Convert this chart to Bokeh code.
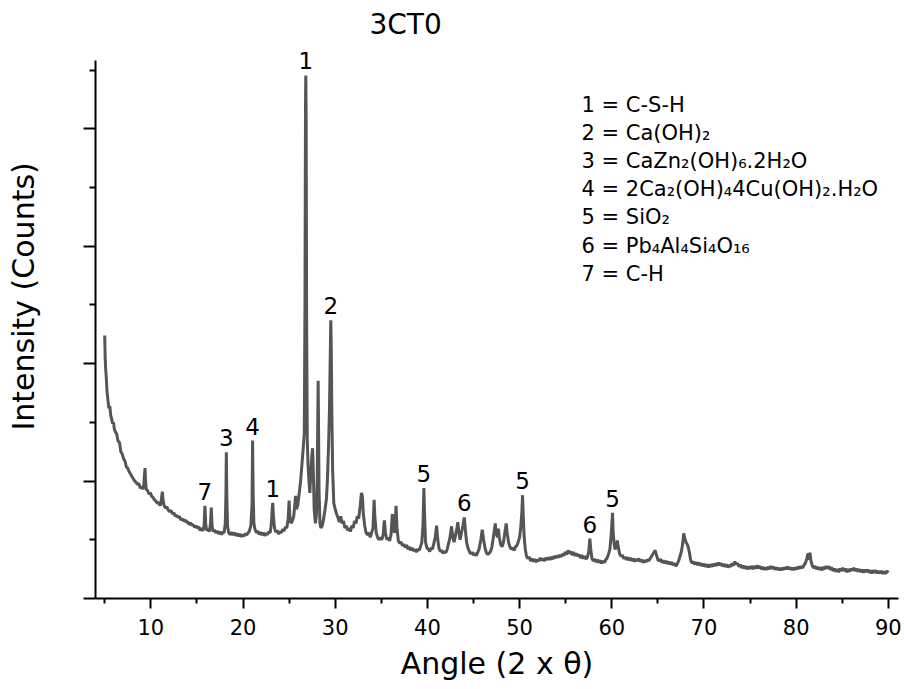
import math
from bokeh.plotting import figure
from bokeh.models import Range1d, FixedTicker, Label, CustomJSTickFormatter, Title
from bokeh.embed import file_html
from bokeh.resources import INLINE
from bokeh.core.properties import value

FONT = "DejaVu Sans"

# ---- diffraction scan (angle 2-theta, intensity counts) ----
scan_low = [
    (5.00, 2240), (5.05, 2050), (5.10, 1960), (5.18, 1870), (5.25, 1760), (5.35, 1690),
    (5.45, 1620), (5.55, 1640), (5.65, 1560), (5.75, 1530), (5.85, 1490), (5.95, 1500),
    (6.05, 1440), (6.15, 1420), (6.30, 1400), (6.45, 1340), (6.60, 1330), (6.75, 1250),
    (6.90, 1230), (7.05, 1190), (7.20, 1170), (7.35, 1120), (7.50, 1110), (7.65, 1080),
    (7.80, 1060), (7.95, 1040), (8.10, 1020), (8.25, 1000), (8.40, 990), (8.55, 970),
    (8.70, 980), (8.85, 940), (9.00, 950), (9.15, 930), (9.25, 980), (9.32, 1060),
    (9.37, 1110), (9.42, 1020), (9.50, 930), (9.65, 920), (9.80, 890), (9.95, 900),
    (10.10, 870), (10.25, 860), (10.40, 840), (10.55, 830), (10.70, 810), (10.85, 820),
    (11.00, 790), (11.10, 810), (11.20, 880), (11.25, 910), (11.32, 840), (11.45, 790),
    (11.60, 770), (11.75, 780), (11.90, 750), (12.05, 740), (12.20, 750), (12.35, 720),
    (12.50, 730), (12.65, 700), (12.80, 710), (12.95, 690), (13.10, 700), (13.25, 670),
    (13.40, 680), (13.55, 660), (13.70, 670), (13.85, 650), (14.00, 655), (14.15, 630),
    (14.30, 645), (14.45, 625), (14.60, 630), (14.75, 605), (14.90, 620), (15.05, 600),
    (15.20, 610), (15.35, 580), (15.50, 600), (15.65, 575), (15.78, 620), (15.87, 790),
    (15.95, 640), (16.05, 580), (16.20, 590), (16.35, 570), (16.48, 640), (16.56, 775),
    (16.64, 620), (16.75, 570), (16.90, 585), (17.05, 560), (17.20, 575), (17.35, 550),
    (17.50, 570), (17.65, 545), (17.80, 565), (17.95, 560), (18.08, 640), (18.15, 900),
    (18.19, 1245), (18.24, 900), (18.32, 620), (18.45, 560), (18.60, 545), (18.75, 565),
    (18.90, 540), (19.05, 560), (19.20, 535), (19.35, 555), (19.50, 530), (19.65, 550),
    (19.80, 525), (19.95, 545),
]

scan_main = [
    (20.10, 530), (20.25, 555), (20.40, 540), (20.55, 560), (20.70, 575), (20.85, 620),
    (20.98, 800), (21.04, 1345), (21.10, 900), (21.18, 640), (21.30, 590), (21.45, 560),
    (21.60, 575), (21.75, 545), (21.90, 565), (22.05, 540), (22.20, 560), (22.35, 535),
    (22.50, 555), (22.65, 545), (22.80, 570), (22.95, 560), (23.08, 640), (23.18, 780),
    (23.23, 815), (23.30, 700), (23.42, 600), (23.55, 565), (23.70, 580), (23.85, 550),
    (24.00, 570), (24.15, 560), (24.30, 590), (24.45, 575), (24.60, 610), (24.75, 600),
    (24.90, 680), (25.00, 835), (25.08, 700), (25.20, 640), (25.35, 660), (25.50, 700),
    (25.62, 800), (25.70, 875), (25.80, 760), (25.95, 800), (26.10, 900), (26.25, 1000),
    (26.40, 1150), (26.55, 1300), (26.65, 1415), (26.72, 2500), (26.78, 4200), (26.81, 4455),
    (26.85, 4100), (26.90, 2400), (26.97, 1350), (27.05, 1150), (27.15, 1000), (27.25, 900),
    (27.35, 1050), (27.45, 1200), (27.55, 1280), (27.62, 1100), (27.72, 760), (27.85, 640),
    (27.95, 700), (28.05, 1000), (28.12, 1600), (28.15, 1855), (28.19, 1500), (28.25, 900),
    (28.35, 640), (28.45, 600), (28.60, 620), (28.75, 680), (28.90, 760), (29.05, 850),
    (29.15, 1000), (29.28, 1300), (29.38, 1620), (29.47, 2100), (29.52, 2370), (29.57, 2150),
    (29.63, 1620), (29.72, 1100), (29.85, 810), (30.00, 760), (30.15, 720), (30.30, 690),
    (30.45, 650), (30.60, 700), (30.75, 640), (30.90, 660), (31.05, 600), (31.20, 620),
    (31.35, 580), (31.50, 600), (31.65, 570), (31.80, 620), (31.95, 600), (32.10, 660),
    (32.25, 640), (32.40, 700), (32.55, 680), (32.70, 780), (32.85, 900), (32.95, 870),
    (33.05, 720),
]

scan_mid = [
    (33.20, 620), (33.35, 560), (33.50, 540), (33.65, 560), (33.80, 520), (33.95, 560),
    (34.10, 600), (34.22, 840), (34.30, 700), (34.45, 560), (34.60, 520), (34.75, 500),
    (34.90, 520), (35.05, 500), (35.20, 540), (35.33, 665), (35.45, 560), (35.60, 500),
    (35.75, 520), (35.90, 490), (36.05, 540), (36.20, 720), (36.28, 600), (36.45, 560),
    (36.60, 790), (36.70, 600), (36.85, 490), (37.00, 470), (37.15, 480), (37.30, 450),
    (37.45, 460), (37.60, 435), (37.75, 455), (37.90, 420), (38.05, 440), (38.20, 410),
    (38.35, 430), (38.50, 405), (38.65, 420), (38.80, 395), (38.95, 420), (39.10, 410),
    (39.25, 440), (39.40, 480), (39.52, 620), (39.62, 940), (39.70, 700), (39.80, 480),
    (39.95, 430), (40.10, 420), (40.25, 400), (40.40, 430), (40.55, 420), (40.70, 470),
    (40.85, 520), (41.00, 620), (41.10, 520), (41.25, 430), (41.40, 400), (41.55, 410),
    (41.70, 385), (41.85, 400), (42.00, 390), (42.15, 420), (42.30, 470), (42.45, 520),
    (42.62, 615), (42.75, 520), (42.90, 480), (43.05, 540), (43.20, 600), (43.30, 650),
    (43.42, 560), (43.55, 500), (43.70, 560), (43.85, 620), (44.00, 690), (44.10, 600),
    (44.25, 480), (44.40, 430), (44.55, 400), (44.70, 380), (44.85, 395), (45.00, 370),
    (45.15, 385), (45.30, 365), (45.45, 390), (45.60, 420), (45.80, 500), (45.95, 585),
    (46.10, 500), (46.25, 430), (46.40, 390), (46.55, 375), (46.70, 385), (46.85, 400),
    (47.00, 440), (47.15, 520), (47.30, 600), (47.36, 640), (47.45, 560), (47.60, 520),
    (47.70, 595), (47.80, 520), (47.95, 460), (48.10, 440), (48.25, 480), (48.40, 560),
    (48.55, 640), (48.65, 560), (48.80, 480), (48.95, 440), (49.10, 420), (49.25, 430),
    (49.40, 410), (49.55, 440), (49.70, 450), (49.85, 480), (50.00, 520), (50.12, 600),
    (50.25, 740), (50.32, 880), (50.40, 700), (50.50, 520), (50.62, 420),
]

scan_high = [
    (50.75, 360), (50.90, 340), (51.05, 355), (51.20, 320), (51.35, 340), (51.50, 315),
    (51.65, 335), (51.80, 310), (51.95, 330), (52.10, 320), (52.25, 345), (52.40, 325),
    (52.55, 340), (52.70, 320), (52.85, 345), (53.00, 330), (53.15, 350), (53.30, 330),
    (53.45, 355), (53.60, 335), (53.75, 360), (53.90, 345), (54.05, 365), (54.20, 350),
    (54.35, 370), (54.50, 355), (54.65, 380), (54.80, 365), (54.95, 395), (55.10, 375),
    (55.25, 410), (55.40, 385), (55.55, 400), (55.70, 370), (55.85, 395), (56.00, 365),
    (56.15, 385), (56.30, 360), (56.45, 375), (56.60, 345), (56.75, 370), (56.90, 340),
    (57.05, 360), (57.20, 335), (57.35, 350), (57.50, 400), (57.62, 510), (57.72, 420),
    (57.85, 340), (58.00, 320), (58.15, 335), (58.30, 310), (58.45, 330), (58.60, 305),
    (58.75, 325), (58.90, 300), (59.05, 320), (59.20, 305), (59.35, 330), (59.50, 345),
    (59.65, 380), (59.80, 420), (59.95, 560), (60.08, 730), (60.15, 560), (60.25, 470),
    (60.35, 420), (60.50, 440), (60.60, 495), (60.70, 440), (60.85, 380), (61.00, 360),
    (61.15, 370), (61.30, 340), (61.45, 355), (61.60, 330), (61.75, 350), (61.90, 325),
    (62.05, 345), (62.20, 320), (62.35, 340), (62.50, 315), (62.65, 335), (62.80, 320),
    (62.95, 340), (63.10, 315), (63.25, 330), (63.40, 305), (63.55, 325), (63.70, 310),
    (63.85, 330), (64.00, 320), (64.20, 345), (64.40, 370), (64.55, 390), (64.70, 410),
    (64.85, 370), (65.00, 330), (65.15, 320), (65.30, 335), (65.45, 305), (65.60, 325),
    (65.75, 300), (65.90, 320), (66.05, 295), (66.20, 315), (66.35, 290), (66.50, 310),
    (66.65, 285), (66.80, 300), (66.95, 275), (67.10, 295), (67.25, 320), (67.40, 360),
    (67.55, 400), (67.70, 470), (67.80, 555), (67.90, 520), (68.05, 480), (68.25, 450),
    (68.40, 400), (68.55, 330), (68.70, 300),
]

scan_tail = [
    (68.85, 315), (69.00, 290), (69.15, 310), (69.30, 285), (69.45, 305), (69.60, 280),
    (69.75, 300), (69.90, 275), (70.05, 295), (70.20, 270), (70.35, 290), (70.50, 265),
    (70.65, 290), (70.80, 270), (70.95, 295), (71.10, 275), (71.25, 300), (71.40, 280),
    (71.55, 305), (71.70, 285), (71.85, 300), (72.00, 275), (72.15, 295), (72.30, 270),
    (72.45, 290), (72.60, 265), (72.75, 285), (72.90, 270), (73.05, 300), (73.20, 280),
    (73.35, 315), (73.50, 290), (73.65, 300), (73.80, 270), (73.95, 290), (74.10, 260),
    (74.25, 280), (74.40, 255), (74.55, 275), (74.70, 250), (74.85, 270), (75.00, 255),
    (75.15, 275), (75.30, 250), (75.45, 275), (75.60, 255), (75.75, 280), (75.90, 260),
    (76.05, 275), (76.20, 250), (76.35, 270), (76.50, 245), (76.65, 265), (76.80, 245),
    (76.95, 270), (77.10, 250), (77.25, 275), (77.40, 255), (77.55, 270), (77.70, 245),
    (77.85, 265), (78.00, 245), (78.15, 260), (78.30, 240), (78.45, 260), (78.60, 245),
    (78.75, 265), (78.90, 250), (79.05, 270), (79.20, 250), (79.35, 265), (79.50, 245),
    (79.65, 260), (79.80, 245), (79.95, 265), (80.10, 250), (80.25, 270), (80.40, 255),
    (80.55, 275), (80.70, 260), (80.85, 285), (81.00, 300), (81.15, 340), (81.30, 385),
    (81.40, 330), (81.50, 390), (81.60, 320), (81.75, 280), (81.90, 260), (82.05, 275),
    (82.20, 250), (82.35, 270), (82.50, 245), (82.65, 265), (82.80, 240), (82.95, 270),
    (83.10, 250), (83.25, 275), (83.40, 255), (83.55, 275), (83.70, 245), (83.85, 265),
    (84.00, 235), (84.15, 255), (84.30, 230), (84.45, 250), (84.60, 225), (84.75, 255),
    (84.90, 235), (85.05, 260), (85.20, 235), (85.35, 255), (85.50, 225), (85.65, 250),
    (85.80, 230), (85.95, 255), (86.10, 240), (86.25, 260), (86.40, 235), (86.55, 255),
    (86.70, 230), (86.85, 250), (87.00, 225), (87.15, 245), (87.30, 220), (87.45, 245),
    (87.60, 225), (87.75, 245), (87.90, 220), (88.05, 240), (88.20, 215), (88.35, 240),
    (88.50, 220), (88.65, 240), (88.80, 215), (88.95, 235), (89.10, 215), (89.25, 235),
    (89.40, 210), (89.55, 230), (89.70, 210), (89.85, 235), (90.00, 220),
]

# ---- peak annotations ----
peak_ids = ["7", "3", "4", "1", "1", "2", "5", "6", "5", "6", "5"]
peak_angle = [15.87, 18.19, 21.04, 23.23, 26.81, 29.52, 39.62, 44.00, 50.32, 57.62, 60.08]
peak_top = [790, 1245, 1345, 815, 4455, 2370, 940, 690, 880, 510, 730]

legend_lines = [
    "1 = C-S-H",
    "2 = Ca(OH)₂",
    "3 = CaZn₂(OH)₆.2H₂O",
    "4 = 2Ca₂(OH)₄4Cu(OH)₂.H₂O",
    "5 = SiO₂",
    "6 = Pb₄Al₄Si₄O₁₆",
    "7 = C-H",
]

x_ticks = [10, 20, 30, 40, 50, 60, 70, 80, 90]
x_minor = [5, 15, 25, 35, 45, 55, 65, 75, 85]
y_ticks = [0, 1000, 2000, 3000, 4000]
y_minor = [500, 1500, 2500, 3500, 4500]

title_text = "3CT0"
x_label = "Angle (2 x θ)"
y_label = "Intensity (Counts)"

# ---- build ----
scan = scan_low + scan_main + scan_mid + scan_high + scan_tail
angle = [a for a, _ in scan]
counts = [c for _, c in scan]

p = figure(width=904, height=689, output_backend="svg", toolbar_location=None,
           x_range=Range1d(4.0, 91.1), y_range=Range1d(0, 4710),
           min_border_left=95, min_border_right=6, min_border_top=45, min_border_bottom=91,
           background_fill_color="white", border_fill_color="white")
p.outline_line_color = None
p.xgrid.visible = False
p.ygrid.visible = False

p.line(angle, counts, line_color="#555555", line_width=3)

p.text(x=peak_angle, y=peak_top, text=peak_ids, text_font=value(FONT),
       text_font_size="23px", text_align="center", text_baseline="bottom",
       y_offset=-6, text_color="black")

# title
p.title.text = title_text
p.title.text_font = FONT
p.title.text_font_size = "28px"
p.title.text_font_style = "normal"
p.title.text_color = "black"
p.title.align = "left"
p.title.offset = 274

# x axis
xa = p.xaxis[0]
xa.ticker = FixedTicker(ticks=x_ticks, minor_ticks=x_minor)
xa.axis_label = x_label
xa.axis_label_text_font = FONT
xa.axis_label_text_font_size = "30px"
xa.axis_label_text_font_style = "normal"
xa.axis_label_text_color = "black"
xa.axis_label_standoff = 8
xa.major_label_text_font = FONT
xa.major_label_text_font_size = "21px"
xa.major_label_text_color = "black"
xa.major_label_standoff = 10
xa.axis_line_width = 2
xa.axis_line_color = "black"
xa.major_tick_line_width = 2
xa.minor_tick_line_width = 2
xa.major_tick_out = 10
xa.major_tick_in = 0
xa.minor_tick_out = 5
xa.minor_tick_in = 0

# y axis (no tick labels)
ya = p.yaxis[0]
ya.ticker = FixedTicker(ticks=y_ticks, minor_ticks=y_minor)
ya.bounds = (0, 4580)
ya.formatter = CustomJSTickFormatter(code="return ''")
ya.axis_line_width = 2
ya.axis_line_color = "black"
ya.major_tick_line_width = 2
ya.minor_tick_line_width = 2
ya.major_tick_out = 12
ya.major_tick_in = 0
ya.minor_tick_out = 6
ya.minor_tick_in = 0

# blank spacer panel between the y axis and its title
p.add_layout(Title(text=" ", standoff=36, text_font_size="2px"), "left")
p.add_layout(Title(text=y_label, align="left", offset=168, standoff=6,
                   text_font=FONT, text_font_size="30px", text_font_style="normal",
                   text_color="black"), "left")

for i, line in enumerate(legend_lines):
    p.add_layout(Label(x=486, y=494 - i * 28.2, x_units="screen", y_units="screen",
                       text=line, text_align="left", text_baseline="middle",
                       text_font=FONT, text_font_size="21px", text_color="black"))

open("out.html", "w").write(file_html(p, INLINE))
